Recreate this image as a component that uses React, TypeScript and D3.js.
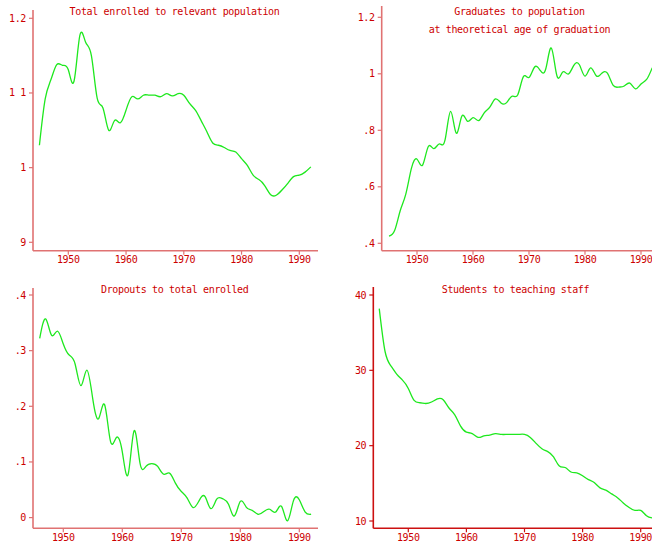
import React from "react";
import * as d3 from "d3";

// Annual series, 1945–1992 (dropouts start 1946)
const yearsA = d3.range(1945, 1993);
const yearsB = d3.range(1946, 1993);

const enrolledRatio = [
  1.030, 1.092, 1.118, 1.138, 1.137, 1.131, 1.116, 1.177, 1.168, 1.150,
  1.093, 1.080, 1.050, 1.063, 1.060, 1.077, 1.095, 1.092, 1.097, 1.097,
  1.097, 1.095, 1.099, 1.096, 1.099, 1.097, 1.086, 1.077, 1.063, 1.048,
  1.033, 1.030, 1.027, 1.023, 1.021, 1.012, 1.003, 0.990, 0.984, 0.976,
  0.964, 0.963, 0.970, 0.979, 0.988, 0.990, 0.994, 1.001,
];

const graduatesRatio = [
  0.425, 0.445, 0.515, 0.574, 0.665, 0.698, 0.677, 0.742, 0.735, 0.752,
  0.765, 0.867, 0.790, 0.850, 0.832, 0.845, 0.834, 0.862, 0.882, 0.911,
  0.897, 0.898, 0.921, 0.926, 0.990, 0.987, 1.024, 1.012, 1.018, 1.091,
  0.992, 1.006, 0.999, 1.030, 1.032, 0.992, 1.021, 0.993, 1.002, 1.002,
  0.960, 0.953, 0.957, 0.967, 0.947, 0.964, 0.980, 1.021,
];

const dropoutsRatio = [
  0.322, 0.357, 0.328, 0.335, 0.312, 0.292, 0.276, 0.237, 0.265, 0.213,
  0.178, 0.203, 0.137, 0.144, 0.118, 0.078, 0.156, 0.098, 0.092, 0.097,
  0.092, 0.078, 0.080, 0.062, 0.047, 0.035, 0.018, 0.030, 0.038, 0.016,
  0.033, 0.034, 0.024, 0.003, 0.029, 0.019, 0.013, 0.006, 0.011, 0.015,
  0.010, 0.020, -0.006, 0.030, 0.032, 0.010, 0.006,
];

const studentsPerTeacher = [
  38.2, 32.5, 30.6, 29.5, 28.7, 27.6, 26.0, 25.7, 25.6, 25.8,
  26.2, 26.1, 25.0, 24.1, 22.6, 21.8, 21.6, 21.1, 21.3, 21.4,
  21.6, 21.5, 21.5, 21.5, 21.5, 21.5, 21.1, 20.3, 19.6, 19.2,
  18.5, 17.3, 17.1, 16.5, 16.4, 16.0, 15.5, 15.1, 14.4, 14.1,
  13.6, 13.1, 12.4, 11.8, 11.4, 11.4, 10.7, 10.4,
];

const xTicks = [1950, 1960, 1970, 1980, 1990];

const ticks1 = [0.9, 1.0, 1.1, 1.2];
const tickLabels1 = ["9", "1", "1 1", "1.2"];
const ticks2 = [0.4, 0.6, 0.8, 1.0, 1.2];
const tickLabels2 = [".4", ".6", ".8", "1", "1.2"];
const ticks3 = [0, 0.1, 0.2, 0.3, 0.4];
const tickLabels3 = ["0", ".1", ".2", ".3", ".4"];
const ticks4 = [10, 20, 30, 40];
const tickLabels4 = ["10", "20", "30", "40"];

const titles1 = ["Total enrolled to relevant population"];
const titles2 = ["Graduates to population", "at theoretical age of graduation"];
const titles3 = ["Dropouts to total enrolled"];
const titles4 = ["Students to teaching staff"];

const TEXT = "#cc0000";
const LINE = "#1ee81e";
const FONT = "'DejaVu Sans Mono', monospace";

type Panel = {
  years: number[];
  values: number[];
  yDomain: [number, number];
  yRange: [number, number];
  xRange: [number, number];
  axisX: number;
  axisTop: number;
  axisBottom: number;
  axisRight: number;
  yTicks: number[];
  yLabels: string[];
  titles: string[];
  titleX: number;
  titleY: number;
  axisColor: string;
};

const panels: Panel[] = [
  {
    years: yearsA, values: enrolledRatio,
    yDomain: [0.9, 1.2], yRange: [242.3, 18.3], xRange: [68.3, 299.3],
    axisX: 33, axisTop: 10, axisBottom: 250.7, axisRight: 318,
    yTicks: ticks1, yLabels: tickLabels1, titles: titles1,
    titleX: 174.5, titleY: 15, axisColor: "#e07272",
  },
  {
    years: yearsA, values: graduatesRatio,
    yDomain: [0.4, 1.2], yRange: [243.3, 17.3], xRange: [417, 641],
    axisX: 381.7, axisTop: 6, axisBottom: 250.7, axisRight: 652,
    yTicks: ticks2, yLabels: tickLabels2, titles: titles2,
    titleX: 519.5, titleY: 15, axisColor: "#e07272",
  },
  {
    years: yearsB, values: dropoutsRatio,
    yDomain: [0, 0.4], yRange: [517.6, 295], xRange: [63.3, 299.3],
    axisX: 33, axisTop: 288, axisBottom: 528.3, axisRight: 318,
    yTicks: ticks3, yLabels: tickLabels3, titles: titles3,
    titleX: 174.7, titleY: 293.3, axisColor: "#e07272",
  },
  {
    years: yearsA, values: studentsPerTeacher,
    yDomain: [10, 40], yRange: [521, 295], xRange: [408.3, 640.7],
    axisX: 373.3, axisTop: 287, axisBottom: 528.3, axisRight: 652,
    yTicks: ticks4, yLabels: tickLabels4, titles: titles4,
    titleX: 515.5, titleY: 293.3, axisColor: "#cc1010",
  },
];

function PanelView({ p }: { p: Panel }) {
  const x = d3.scaleLinear().domain([1950, 1990]).range(p.xRange);
  const y = d3.scaleLinear().domain(p.yDomain).range(p.yRange);
  const line = d3
    .line<number>()
    .x((_, i) => x(p.years[i]))
    .y((v) => y(v))
    .curve(d3.curveNatural);

  return (
    <g>
      {p.titles.map((t, i) => (
        <text
          key={t}
          x={p.titleX}
          y={p.titleY + i * 18}
          textAnchor="middle"
          fill={TEXT}
          fontFamily={FONT}
          fontSize={10}
          letterSpacing={-0.35}
        >
          {t}
        </text>
      ))}
      <path d={line(p.values) ?? ""} fill="none" stroke={LINE} strokeWidth={1.3} />
      <line x1={p.axisX} x2={p.axisX} y1={p.axisTop} y2={p.axisBottom} stroke={p.axisColor} strokeWidth={1.6} />
      <line x1={p.axisX} x2={p.axisRight} y1={p.axisBottom} y2={p.axisBottom} stroke={p.axisColor} strokeWidth={1.6} />
      {p.yTicks.map((t, i) => (
        <g key={t}>
          <line x1={p.axisX - 4} x2={p.axisX} y1={y(t)} y2={y(t)} stroke={p.axisColor} strokeWidth={1.2} />
          <text
            x={p.axisX - 7}
            y={y(t)}
            dy="0.35em"
            textAnchor="end"
            fill={TEXT}
            fontFamily={FONT}
            fontSize={10}
            letterSpacing={-0.35}
          >
            {p.yLabels[i]}
          </text>
        </g>
      ))}
      {xTicks.map((t) => (
        <g key={t}>
          <line x1={x(t)} x2={x(t)} y1={p.axisBottom} y2={p.axisBottom + 4} stroke={p.axisColor} strokeWidth={1.2} />
          <text
            x={x(t)}
            y={p.axisBottom + 12.5}
            textAnchor="middle"
            fill={TEXT}
            fontFamily={FONT}
            fontSize={10}
            letterSpacing={-0.35}
          >
            {t}
          </text>
        </g>
      ))}
    </g>
  );
}

export default function App() {
  return (
    <svg
      width={652}
      height={550}
      style={{ position: "fixed", left: 0, top: 0, background: "#ffffff" }}
    >
      <rect width={652} height={550} fill="#ffffff" />
      {panels.map((p, i) => (
        <PanelView key={i} p={p} />
      ))}
    </svg>
  );
}
